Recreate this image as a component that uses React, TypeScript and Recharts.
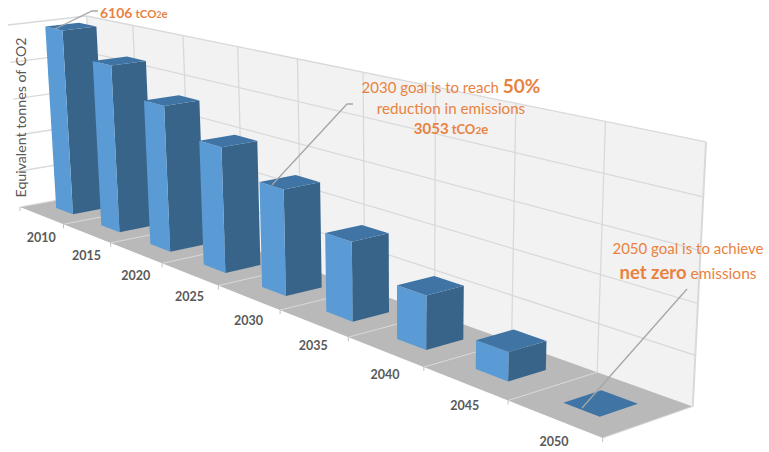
import React from "react";
import { BarChart, Bar, XAxis, YAxis } from "recharts";

const years = ["2010", "2015", "2020", "2025", "2030", "2035", "2040", "2045", "2050"];
const emissions = [6106, 5340, 4507, 3743, 3053, 2200, 1440, 740, 0];
const gridValues = [0, 1230, 2460, 3690, 4920, 6150];
const categoryEdges = [0, 1, 2, 3, 4, 5, 6, 7, 8, 9];
const rows = years.map((year, i) => ({ year, emissions: emissions[i] }));

const CHART_W = 769;
const CHART_H = 452;
const MARGIN = 20;
const AXIS_H = 20;
const VALUE_MAX = 6150;
const PLOT_W = CHART_W - 2 * MARGIN;
const PLOT_H = CHART_H - 2 * MARGIN - AXIS_H;

type Pt = [number, number];

// Projective camera for the 3D box: u runs along the years, d into the depth, h up the value axis.
const FRONT_BOTTOM_LEFT: Pt = [20, 207];
const FRONT_BOTTOM_RIGHT: Pt = [602.7, 438];
const BACK_BOTTOM_LEFT: Pt = [96, 193];
const FRONT_TOP_LEFT: Pt = [8, 25];
const CU = -0.355;
const CD = 0.03;
const CH = -0.03;
const BAR_D0 = 0.295;
const BAR_D1 = 0.72;

function project(u: number, d: number, h: number): Pt {
  const w = 1 + CU * u + CD * d + CH * h;
  const axis = (k: 0 | 1) => {
    const o = FRONT_BOTTOM_LEFT[k];
    const xu = FRONT_BOTTOM_RIGHT[k] * (1 + CU) - o;
    const xd = BACK_BOTTOM_LEFT[k] * (1 + CD) - o;
    const xh = FRONT_TOP_LEFT[k] * (1 + CH) - o;
    return (o + xu * u + xd * d + xh * h) / w;
  };
  return [axis(0), axis(1)];
}

const poly = (pts: Pt[]) => pts.map((p) => `${p[0].toFixed(1)},${p[1].toFixed(1)}`).join(" ");

// Extruded column: the flat rectangle from the value scale is lifted into the box.
function Column(props: any) {
  const { x, width, height } = props;
  const u0 = (x - MARGIN) / PLOT_W;
  const u1 = (x + width - MARGIN) / PLOT_W;
  const h = (height ?? 0) / PLOT_H;
  const flat = h < 0.001;
  return (
    <g>
      {!flat && (
        <>
          <polygon
            points={poly([project(u1, BAR_D0, 0), project(u1, BAR_D1, 0), project(u1, BAR_D1, h), project(u1, BAR_D0, h)])}
            fill="#38648a"
          />
          <polygon
            points={poly([project(u0, BAR_D0, 0), project(u1, BAR_D0, 0), project(u1, BAR_D0, h), project(u0, BAR_D0, h)])}
            fill="#5b9bd5"
          />
        </>
      )}
      <polygon
        points={poly([project(u0, BAR_D0, h), project(u1, BAR_D0, h), project(u1, BAR_D1, h), project(u0, BAR_D1, h)])}
        fill="#3f74a5"
      />
    </g>
  );
}

// Walls, floor and their grid lines, drawn underneath the columns.
function Room() {
  const n = years.length;
  return (
    <g>
      <polygon
        points={poly([project(0, 1, 0), project(1, 1, 0), project(1, 1, 1), project(0, 1, 1)])}
        fill="#f2f2f2"
      />
      <polygon
        points={poly([project(0, 0, 0), project(1, 0, 0), project(1, 1, 0), project(0, 1, 0)])}
        fill="#b9b9b9"
      />
      {gridValues.slice(1).map((v) => {
        const h = v / VALUE_MAX;
        return (
          <polyline
            key={v}
            points={poly([project(0, 0, h), project(0, 1, h), project(1, 1, h)])}
            fill="none"
            stroke="#d9d9d9"
            strokeWidth={1.3}
          />
        );
      })}
      {categoryEdges.map((i) => {
        const u = i / n;
        const [tx, ty] = project(u, 0, 0);
        return (
          <g key={i}>
            <line
              x1={project(u, 1, 0)[0]}
              y1={project(u, 1, 0)[1]}
              x2={project(u, 1, 1)[0]}
              y2={project(u, 1, 1)[1]}
              stroke="#d9d9d9"
              strokeWidth={i === n ? 2 : 1.3}
            />
            <line
              x1={tx}
              y1={ty}
              x2={project(u, 1, 0)[0]}
              y2={project(u, 1, 0)[1]}
              stroke="#d9d9d9"
              strokeWidth={1}
            />
            <line x1={tx} y1={ty} x2={tx} y2={ty + 4} stroke="#bfbfbf" strokeWidth={1} />
          </g>
        );
      })}
    </g>
  );
}

function YearTick(props: any) {
  const { payload } = props;
  const u = (payload.coordinate - MARGIN) / PLOT_W;
  const [px, py] = project(u, 0, 0);
  return (
    <text
      x={px}
      y={py + 27}
      textAnchor="middle"
      fontFamily="Lato"
      fontWeight={700}
      fontSize={12.5}
      fill="#595959"
    >
      {payload.value}
    </text>
  );
}

const ORANGE = "#e9823f";

// Callouts sit in their own layer so the leader lines run over the columns.
function Notes() {
  return (
    <svg
      width={CHART_W}
      height={CHART_H}
      style={{ position: "absolute", left: 0, top: 0, pointerEvents: "none" }}
    >
      <g fontFamily="Lato" fill={ORANGE}>
        <polyline points="55,29 92,11 98,11" fill="none" stroke="#a6a6a6" strokeWidth={1.3} />
        <polyline points="272,185 347,104 353,104" fill="none" stroke="#a6a6a6" strokeWidth={1.3} />
        <line x1={582} y1={408} x2={687} y2={289} stroke="#a6a6a6" strokeWidth={1.3} />

        <text x={100} y={18} fontSize={14}>
          <tspan fontWeight={700}>6106</tspan>
          <tspan fontWeight={700} fontSize={11.5} dx={3}>tCO</tspan>
          <tspan fontWeight={700} fontSize={8.5}>2</tspan>
          <tspan fontWeight={700} fontSize={11.5}>e</tspan>
        </text>

        <text x={451} y={93} textAnchor="middle" fontSize={15}>
          2030 goal is to reach <tspan fontWeight={700} fontSize={19}>50%</tspan>
        </text>
        <text x={451} y={114} textAnchor="middle" fontSize={15.2}>reduction in emissions</text>
        <text x={451} y={134} textAnchor="middle" fontSize={15}>
          <tspan fontWeight={700}>3053</tspan>
          <tspan fontWeight={700} fontSize={13} dx={3}>tCO</tspan>
          <tspan fontWeight={700} fontSize={10}>2</tspan>
          <tspan fontWeight={700} fontSize={13}>e</tspan>
        </text>

        <text x={688} y={254} textAnchor="middle" fontSize={15}>2050 goal is to achieve</text>
        <text x={688} y={279} textAnchor="middle" fontSize={15.5}>
          <tspan fontWeight={700} fontSize={18.5}>net zero</tspan> emissions
        </text>
      </g>
    </svg>
  );
}

export default function App() {
  return (
    <div style={{ position: "absolute", left: 0, top: 0, width: CHART_W, height: CHART_H, background: "#fff" }}>
      <BarChart
        width={CHART_W}
        height={CHART_H}
        data={rows}
        margin={{ top: MARGIN, right: MARGIN, bottom: MARGIN, left: MARGIN }}
        barCategoryGap="31%"
      >
        <Room />
        <XAxis
          dataKey="year"
          height={AXIS_H}
          axisLine={false}
          tickLine={false}
          interval={0}
          tick={<YearTick />}
        />
        <YAxis hide domain={[0, VALUE_MAX]} ticks={gridValues} />
        <Bar dataKey="emissions" isAnimationActive={false} shape={<Column />} />
        <text
          transform="translate(26 117.5) rotate(-90)"
          textAnchor="middle"
          fontFamily="Lato"
          fontSize={14.2}
          fill="#595959"
        >
          Equivalent tonnes of CO2
        </text>
      </BarChart>
      <Notes />
    </div>
  );
}
